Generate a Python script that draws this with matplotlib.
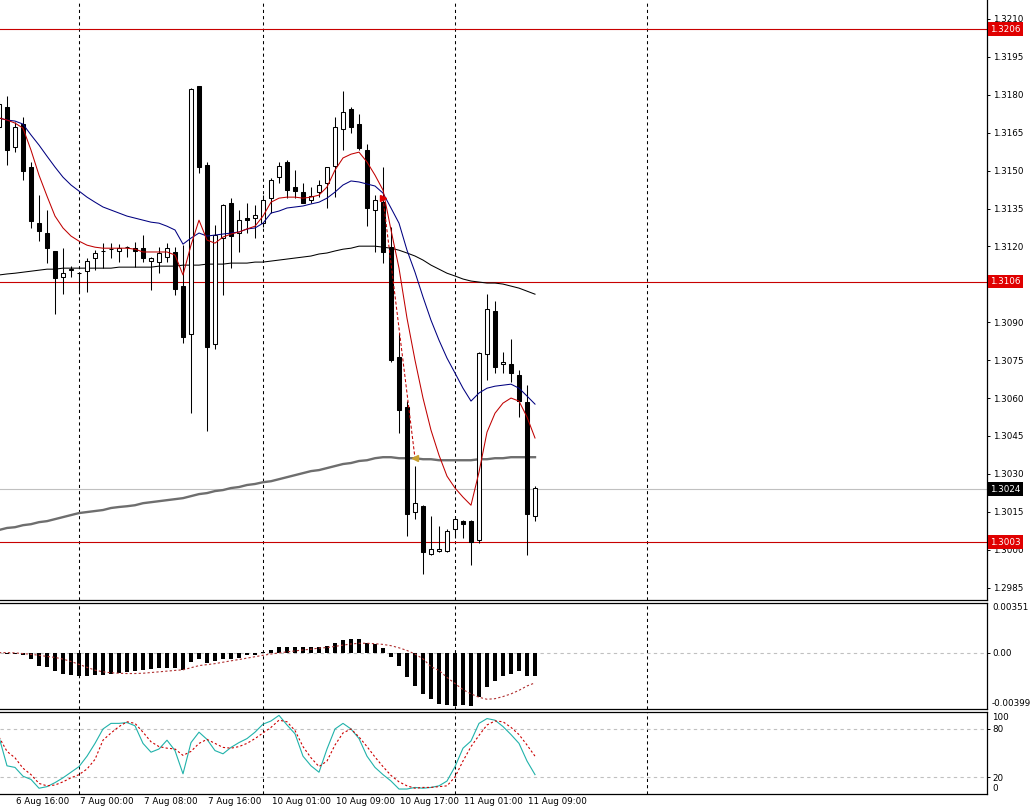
import numpy as np
import matplotlib.pyplot as plt

W, H = 1031, 810

# hourly GBP/USD-like bars, index 0 = left edge of the chart
opens = [1.31672, 1.31751, 1.31593, 1.31684, 1.31514, 1.31292, 1.31253, 1.31182, 1.31079, 1.31106,
         1.31094, 1.31102, 1.31154, 1.31180, 1.31189, 1.31182, 1.31197, 1.31193, 1.31193, 1.31142,
         1.31138, 1.31158, 1.31178, 1.31043, 1.30853, 1.31834, 1.31522, 1.30814, 1.31233, 1.31371,
         1.31253, 1.31312, 1.31312, 1.31292, 1.31391, 1.31474, 1.31534, 1.31435, 1.31415, 1.31383,
         1.31415, 1.31451, 1.31518, 1.31664, 1.31743, 1.31684, 1.31581, 1.31344, 1.31375, 1.31197,
         1.30762, 1.30564, 1.30149, 1.30172, 1.29983, 1.29994, 1.29994, 1.30081, 1.30113, 1.30113,
         1.30038, 1.30774, 1.30944, 1.30734, 1.30734, 1.30691, 1.30584, 1.30133]
highs = [1.31779, 1.31795, 1.31692, 1.31712, 1.31534, 1.31403, 1.31344, 1.31182, 1.31193, 1.31122,
         1.31098, 1.31154, 1.31185, 1.31213, 1.31213, 1.31209, 1.31201, 1.31217, 1.31245, 1.31158,
         1.31197, 1.31213, 1.31197, 1.31205, 1.31825, 1.31836, 1.31534, 1.31284, 1.31366, 1.31391,
         1.31344, 1.31371, 1.31364, 1.31403, 1.31470, 1.31534, 1.31542, 1.31502, 1.31451, 1.31435,
         1.31462, 1.31516, 1.31712, 1.31815, 1.31751, 1.31724, 1.31605, 1.31403, 1.31514, 1.31277,
         1.30857, 1.30588, 1.30331, 1.30176, 1.30133, 1.30093, 1.30081, 1.30133, 1.30117, 1.30117,
         1.30782, 1.31011, 1.30984, 1.30782, 1.30833, 1.30711, 1.30651, 1.30252]
lows = [1.31660, 1.31522, 1.31573, 1.31462, 1.31273, 1.31221, 1.31134, 1.30932, 1.31011, 1.31079,
        1.31019, 1.31019, 1.31106, 1.31114, 1.31154, 1.31138, 1.31158, 1.31118, 1.31138, 1.31027,
        1.31094, 1.31138, 1.31007, 1.30817, 1.30540, 1.31490, 1.30469, 1.30794, 1.31007, 1.31114,
        1.31178, 1.31253, 1.31233, 1.31277, 1.31332, 1.31451, 1.31391, 1.31391, 1.31371, 1.31371,
        1.31395, 1.31352, 1.31395, 1.31581, 1.31648, 1.31581, 1.31280, 1.31178, 1.31134, 1.30742,
        1.30461, 1.30054, 1.30121, 1.29903, 1.29981, 1.29992, 1.29992, 1.30046, 1.30046, 1.29939,
        1.30026, 1.30671, 1.30699, 1.30699, 1.30663, 1.30525, 1.29979, 1.30113]
closes = [1.31763, 1.31581, 1.31672, 1.31498, 1.31300, 1.31261, 1.31193, 1.31075, 1.31094, 1.31110,
          1.31096, 1.31142, 1.31174, 1.31182, 1.31191, 1.31193, 1.31199, 1.31182, 1.31154, 1.31154,
          1.31174, 1.31193, 1.31031, 1.30841, 1.31823, 1.31514, 1.30802, 1.31245, 1.31364, 1.31241,
          1.31304, 1.31304, 1.31324, 1.31383, 1.31462, 1.31518, 1.31423, 1.31419, 1.31371, 1.31399,
          1.31443, 1.31514, 1.31672, 1.31732, 1.31672, 1.31589, 1.31352, 1.31383, 1.31178, 1.30750,
          1.30552, 1.30141, 1.30184, 1.29990, 1.30002, 1.30002, 1.30074, 1.30121, 1.30101, 1.30030,
          1.30780, 1.30952, 1.30723, 1.30742, 1.30699, 1.30588, 1.30141, 1.30244]

# moving averages
ma_fast = [1.31708, 1.31700, 1.31688, 1.31668, 1.31581, 1.31482, 1.31399, 1.31320, 1.31273, 1.31241,
           1.31221, 1.31205, 1.31197, 1.31193, 1.31193, 1.31193, 1.31193, 1.31189, 1.31178, 1.31178,
           1.31178, 1.31178, 1.31166, 1.31087, 1.31205, 1.31304, 1.31225, 1.31213, 1.31237, 1.31249,
           1.31257, 1.31269, 1.31280, 1.31320, 1.31375, 1.31391, 1.31395, 1.31395, 1.31391, 1.31395,
           1.31403, 1.31435, 1.31502, 1.31550, 1.31565, 1.31573, 1.31534, 1.31482, 1.31423, 1.31265,
           1.31114, 1.30916, 1.30750, 1.30600, 1.30473, 1.30374, 1.30291, 1.30244, 1.30208, 1.30176,
           1.30307, 1.30465, 1.30540, 1.30580, 1.30600, 1.30588, 1.30525, 1.30442]
ma_mid = [1.31708, 1.31700, 1.31696, 1.31684, 1.31641, 1.31601, 1.31557, 1.31514, 1.31474, 1.31443,
          1.31419, 1.31395, 1.31375, 1.31356, 1.31344, 1.31332, 1.31320, 1.31312, 1.31304, 1.31296,
          1.31292, 1.31280, 1.31265, 1.31209, 1.31233, 1.31253, 1.31241, 1.31245, 1.31249, 1.31253,
          1.31257, 1.31269, 1.31273, 1.31292, 1.31332, 1.31340, 1.31352, 1.31356, 1.31360, 1.31368,
          1.31375, 1.31391, 1.31415, 1.31443, 1.31459, 1.31455, 1.31447, 1.31439, 1.31411, 1.31352,
          1.31292, 1.31185, 1.31098, 1.31000, 1.30908, 1.30829, 1.30758, 1.30699, 1.30639, 1.30588,
          1.30620, 1.30639, 1.30647, 1.30651, 1.30655, 1.30639, 1.30608, 1.30576]
ma_slow = [1.31087, 1.31091, 1.31094, 1.31098, 1.31102, 1.31106, 1.31110, 1.31110, 1.31114, 1.31114,
           1.31114, 1.31114, 1.31114, 1.31114, 1.31114, 1.31118, 1.31118, 1.31118, 1.31118, 1.31118,
           1.31122, 1.31122, 1.31122, 1.31126, 1.31126, 1.31126, 1.31130, 1.31130, 1.31130, 1.31134,
           1.31134, 1.31134, 1.31138, 1.31138, 1.31142, 1.31146, 1.31150, 1.31154, 1.31158, 1.31162,
           1.31170, 1.31174, 1.31182, 1.31189, 1.31193, 1.31201, 1.31201, 1.31201, 1.31197, 1.31193,
           1.31185, 1.31174, 1.31162, 1.31146, 1.31126, 1.31110, 1.31094, 1.31083, 1.31071, 1.31063,
           1.31059, 1.31055, 1.31055, 1.31051, 1.31043, 1.31035, 1.31023, 1.31011]
ma_200 = [1.30078, 1.30086, 1.30089, 1.30097, 1.30101, 1.30109, 1.30113, 1.30121, 1.30129, 1.30137,
          1.30145, 1.30149, 1.30153, 1.30157, 1.30165, 1.30169, 1.30172, 1.30176, 1.30184, 1.30188,
          1.30192, 1.30196, 1.30200, 1.30204, 1.30212, 1.30220, 1.30224, 1.30232, 1.30236, 1.30244,
          1.30248, 1.30256, 1.30260, 1.30267, 1.30271, 1.30279, 1.30287, 1.30295, 1.30303, 1.30311,
          1.30315, 1.30323, 1.30331, 1.30339, 1.30343, 1.30351, 1.30354, 1.30362, 1.30366, 1.30366,
          1.30362, 1.30362, 1.30362, 1.30358, 1.30358, 1.30354, 1.30354, 1.30354, 1.30354, 1.30354,
          1.30358, 1.30358, 1.30362, 1.30362, 1.30366, 1.30366, 1.30366, 1.30366]

# MACD histogram and signal
macd = [-0.00004, -0.00007, -0.00012, -0.00020, -0.00044, -0.00093, -0.00100, -0.00130, -0.00148, -0.00160,
        -0.00165, -0.00167, -0.00160, -0.00155, -0.00150, -0.00145, -0.00135, -0.00130, -0.00125, -0.00116,
        -0.00110, -0.00106, -0.00106, -0.00125, -0.00069, -0.00044, -0.00076, -0.00057, -0.00044, -0.00044,
        -0.00037, -0.00020, -0.00020, 0.00005, 0.00017, 0.00037, 0.00037, 0.00042, 0.00037, 0.00037,
        0.00042, 0.00047, 0.00071, 0.00086, 0.00096, 0.00096, 0.00071, 0.00062, 0.00030, -0.00032,
        -0.00093, -0.00175, -0.00234, -0.00293, -0.00327, -0.00364, -0.00371, -0.00381, -0.00371, -0.00376,
        -0.00315, -0.00241, -0.00204, -0.00167, -0.00148, -0.00130, -0.00167, -0.00167]
macd_signal = [0.0, 0.0, -0.00002, -0.00007, -0.00012, -0.00019, -0.00027, -0.00034, -0.00046, -0.00063,
               -0.00083, -0.00104, -0.00124, -0.00136, -0.00143, -0.00146, -0.00148, -0.00148, -0.00146, -0.00141,
               -0.00136, -0.00131, -0.00126, -0.00122, -0.00107, -0.00092, -0.00085, -0.00078, -0.00068, -0.00058,
               -0.00049, -0.00039, -0.00029, -0.00019, -0.00010, -0.00002, 0.00005, 0.00012, 0.00019, 0.00024,
               0.00032, 0.00036, 0.00044, 0.00053, 0.00061, 0.00066, 0.00066, 0.00063, 0.00058, 0.00049,
               0.00034, 0.00015, -0.00010, -0.00044, -0.00100, -0.00126, -0.00175, -0.00219, -0.00262, -0.00292,
               -0.00316, -0.00330, -0.00326, -0.00311, -0.00292, -0.00267, -0.00236, -0.00214]

# stochastic
stoch_k = [70, 34, 32, 21, 17, 6, 8, 13, 19, 26,
           33, 46, 62, 80, 87, 87, 88, 84, 62, 51,
           55, 66, 53, 24, 63, 76, 67, 53, 49, 57,
           63, 68, 76, 86, 90, 97, 85, 74, 46, 34,
           26, 55, 80, 87, 80, 68, 46, 32, 23, 15,
           5, 5, 7, 6, 7, 9, 15, 33, 56, 65,
           87, 93, 91, 83, 73, 62, 40, 23]
stoch_d = [70, 52, 44, 31, 23, 12, 9, 10, 14, 19,
           23, 30, 42, 66, 75, 83, 89, 87, 76, 64,
           58, 56, 55, 47, 52, 62, 67, 62, 57, 56,
           58, 62, 68, 75, 82, 91, 89, 78, 58, 44,
           33, 40, 60, 75, 80, 70, 58, 45, 33, 22,
           14, 9, 6, 7, 7, 8, 9, 20, 40, 58,
           72, 85, 90, 89, 82, 73, 60, 46]

# levels and labels
h_levels = [1.3206, 1.3106, 1.3003]
bid = 1.3024
trade_open = (48, 1.31391)
trade_close = (52, 1.30362)
day_sep = [10, 33, 57, 81]
time_idx = [2, 10, 18, 26, 34, 42, 50, 58, 66]
time_lbl = ["6 Aug 16:00", "7 Aug 00:00", "7 Aug 08:00", "7 Aug 16:00", "10 Aug 01:00",
            "10 Aug 09:00", "10 Aug 17:00", "11 Aug 01:00", "11 Aug 09:00"]
price_ticks = [1.3210, 1.3195, 1.3180, 1.3165, 1.3150, 1.3135, 1.3120, 1.3105, 1.3090,
               1.3075, 1.3060, 1.3045, 1.3030, 1.3015, 1.3000, 1.2985]
# tick labels that sit under a coloured price box
hidden_ticks = [1.3105]

FS = 6.3
plt.rcParams['font.family'] = ['DejaVu Sans']


def rect(top, bottom):
    return [0, 1 - bottom / H, 987 / W, (bottom - top) / H]


def style_panel(ax, top_spine=True):
    ax.spines['left'].set_visible(False)
    ax.spines['top'].set_visible(top_spine)
    for s in ['right', 'bottom', 'top']:
        ax.spines[s].set_linewidth(0.9)
    ax.set_xticks([])
    ax.set_xlim(0.125, 123.5)
    ax.yaxis.tick_right()
    ax.tick_params(axis='y', direction='out', length=2.5, width=0.7, pad=1.5,
                   labelsize=FS, colors='black')
    for i in day_sep:
        ax.axvline(i, color='black', lw=0.75, ls=(0, (3, 3)), zorder=1)


fig = plt.figure(figsize=(W / 100, H / 100), dpi=100)
x = np.arange(len(opens))

# ---- main price panel
ax = fig.add_axes(rect(0, 600))
style_panel(ax, top_spine=False)
ax.set_ylim(1.29801, 1.32175)
ax.set_yticks(price_ticks)
ax.set_yticklabels(['' if t in hidden_ticks else '%.4f' % t for t in price_ticks])

for lv in h_levels:
    ax.axhline(lv, color='#c80000', lw=0.8, zorder=2)
ax.axhline(bid, color='#c0c0c0', lw=0.8, zorder=2)

ax.plot(x, ma_200, color='#6e6e6e', lw=1.7, zorder=3)
ax.plot(x, ma_slow, color='black', lw=0.75, zorder=3)

o = np.array(opens); c = np.array(closes)
ax.vlines(x, lows, highs, color='black', lw=0.75, zorder=4)
up = c >= o
body = np.maximum(np.abs(c - o), 0.00002)
ax.bar(x, body, 0.6, np.minimum(o, c), color=np.where(up, 'white', 'black'),
       edgecolor='black', lw=0.75, zorder=5)

ax.plot(x, ma_mid, color='#000080', lw=0.75, zorder=6)
ax.plot(x, ma_fast, color='#c00000', lw=0.75, zorder=6)

ax.plot([trade_open[0], trade_close[0]], [trade_open[1], trade_close[1]],
        color='#c00000', lw=0.75, ls=(0, (3, 2)), zorder=7)
ax.plot(*trade_open, marker='>', color='#e00000', ms=4, zorder=8)
ax.plot(*trade_close, marker='<', color='#c8a030', ms=4, zorder=8)


def price_box(p, bg):
    ax.annotate('%.4f' % p, xy=(1, p), xycoords=('axes fraction', 'data'),
                xytext=(3, 0), textcoords='offset pixels', ha='left', va='center',
                fontsize=FS, color='white', annotation_clip=False, zorder=10,
                bbox=dict(boxstyle='square,pad=0.25', fc=bg, ec='none'))


for lv in h_levels:
    price_box(lv, '#e00000')
price_box(bid, 'black')

# ---- MACD panel
ax2 = fig.add_axes(rect(603, 709))
style_panel(ax2)
ax2.set_ylim(-0.00399, 0.00351)
ax2.axhline(0, color='#c0c0c0', lw=0.8, ls=(0, (3, 3)), zorder=1)
ax2.bar(x, macd, 0.4, color='black', zorder=3)
ax2.plot(x, macd_signal, color='#b03030', lw=0.8, ls=(0, (2, 2)), zorder=4)
ax2.set_yticks([0])
ax2.set_yticklabels(['0.00'])
ax2.text(1.005, 0.955, '0.00351', transform=ax2.transAxes, fontsize=FS, va='center', ha='left')
ax2.text(1.005, 0.055, '-0.00399', transform=ax2.transAxes, fontsize=FS, va='center', ha='left')

# ---- Stochastic panel
ax3 = fig.add_axes(rect(712, 794))
style_panel(ax3)
ax3.set_ylim(-1.2, 101.2)
for lv in (80, 20):
    ax3.axhline(lv, color='#c0c0c0', lw=0.8, ls=(0, (3, 3)), zorder=1)
ax3.plot(x, stoch_k, color='#20b2aa', lw=0.8, zorder=3)
ax3.plot(x, stoch_d, color='#cc0000', lw=0.8, ls=(0, (2, 2)), zorder=4)
ax3.set_yticks([80, 20])
ax3.set_yticklabels(['80', '20'])
ax3.text(1.005, 0.93, '100', transform=ax3.transAxes, fontsize=FS, va='center', ha='left')
ax3.text(1.005, 0.07, '0', transform=ax3.transAxes, fontsize=FS, va='center', ha='left')

for i, lbl in zip(time_idx, time_lbl):
    ax3.annotate(lbl, xy=(i, 0), xycoords=('data', 'axes fraction'), xytext=(1, -8),
                 textcoords='offset pixels', ha='left', va='center', fontsize=FS,
                 annotation_clip=False)

fig.savefig('out.png', dpi=100)
